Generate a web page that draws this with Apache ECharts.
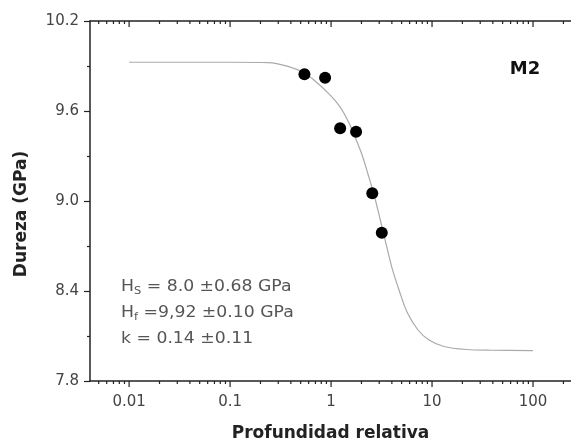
<!DOCTYPE html>
<html lang="es">
<head>
<meta charset="UTF-8">
<title>Dureza M2</title>
<script src="https://cdn.jsdelivr.net/npm/echarts@6/dist/echarts.min.js"></script>
</head>
<body style="margin:0">
<div id="main" style="width:571px;height:445px;"></div>
<script type="text/javascript">
// medidas (puntos negros)
var puntosX = [0.545, 0.873, 1.23, 1.77, 2.56, 3.18];
var puntosY = [9.845, 9.822, 9.485, 9.462, 9.051, 8.789];

// curva de ajuste
var ajusteX = [0.01, 0.1, 0.238, 0.375, 0.541, 0.695, 0.977, 1.227, 1.473, 1.728, 2.03, 2.32, 2.67, 3.06, 3.51, 4.02, 4.71, 5.65, 7.26, 9.34, 13.1, 21.7, 38.4, 100];
var ajusteY = [9.925, 9.925, 9.923, 9.897, 9.853, 9.80, 9.707, 9.627, 9.533, 9.427, 9.307, 9.18, 9.04, 8.88, 8.713, 8.553, 8.407, 8.26, 8.14, 8.073, 8.03, 8.01, 8.005, 8.003];

// marcas del eje x (log)
var xMayores = [0.01, 0.1, 1, 10, 100];
var xMenores = [0.005, 0.006, 0.007, 0.008, 0.009,
    0.02, 0.03, 0.04, 0.05, 0.06, 0.07, 0.08, 0.09,
    0.2, 0.3, 0.4, 0.5, 0.6, 0.7, 0.8, 0.9,
    2, 3, 4, 5, 6, 7, 8, 9,
    20, 30, 40, 50, 60, 70, 80, 90, 200];

var fuente = 'DejaVu Sans';
var ejeColor = '#222';
var yMin = 7.8, yMax = 10.2;

var myChart = echarts.init(document.getElementById('main'));

// las marcas del eje x se dibujan con una serie custom (abajo hacia fuera, arriba hacia dentro)
var marcas = xMayores.map(function (v) { return [v, 6]; })
    .concat(xMenores.map(function (v) { return [v, 3]; }));

function dibujaMarca(params, api) {
    var v = api.value(0);
    var len = api.value(1);
    var abajo = api.coord([v, yMin]);
    var arriba = api.coord([v, yMax]);
    var estilo = { stroke: ejeColor, lineWidth: 1.2 };
    return {
        type: 'group',
        children: [
            { type: 'line', shape: { x1: abajo[0], y1: abajo[1], x2: abajo[0], y2: abajo[1] + len }, style: estilo },
            { type: 'line', shape: { x1: arriba[0], y1: arriba[1], x2: arriba[0], y2: arriba[1] + len }, style: estilo }
        ]
    };
}

var option = {
    animation: false,
    grid: { left: 90, top: 21, right: 0, bottom: 64, outerBoundsMode: 'none', containLabel: false },
    xAxis: [
        {
            type: 'log',
            min: 0.0041,
            max: 237.8,
            axisLine: { show: true, onZero: false, lineStyle: { color: ejeColor, width: 1.5 } },
            axisTick: { show: false },
            axisLabel: {
                customValues: xMayores,
                margin: 14,
                fontFamily: fuente,
                fontSize: 15,
                color: '#444',
                formatter: function (v) { return String(+v.toPrecision(3)); }
            },
            splitLine: { show: false },
            name: 'Profundidad relativa',
            nameLocation: 'middle',
            nameGap: 44,
            nameTextStyle: { fontFamily: fuente, fontWeight: 'bold', fontSize: 17, color: '#222' }
        },
        {
            type: 'log',
            position: 'top',
            min: 0.0041,
            max: 237.8,
            axisLine: { show: true, onZero: false, lineStyle: { color: ejeColor, width: 1.5 } },
            axisTick: { show: false },
            axisLabel: { show: false },
            splitLine: { show: false }
        }
    ],
    yAxis: {
        type: 'value',
        min: yMin,
        max: yMax,
        interval: 0.6,
        name: 'Dureza (GPa)',
        nameLocation: 'middle',
        nameRotate: 90,
        nameGap: 60,
        nameTextStyle: { fontFamily: fuente, fontWeight: 'bold', fontSize: 17, color: '#222', padding: [0, 26, 0, 0] },
        axisLine: { show: true, lineStyle: { color: ejeColor, width: 1.5 } },
        axisTick: { show: true, length: 6, lineStyle: { color: ejeColor, width: 1.2 } },
        minorTick: { show: true, splitNumber: 2, length: 3, lineStyle: { color: ejeColor, width: 1.2 } },
        axisLabel: {
            margin: 11,
            fontFamily: fuente,
            fontSize: 15,
            color: '#444',
            formatter: function (v) { return v.toFixed(1); }
        },
        splitLine: { show: false }
    },
    graphic: [
        {
            type: 'text', x: 121, y: 287, scaleX: 1.15,
            style: {
                text: '{a|H}{b|S}{a| = 8.0 ±0.68 GPa}',
                verticalAlign: 'middle',
                rich: {
                    a: { fontFamily: fuente, fontSize: 15, fill: '#555' },
                    b: { fontFamily: fuente, fontSize: 10, fill: '#555', padding: [9, 0, 0, 0] }
                }
            }
        },
        {
            type: 'text', x: 121, y: 313, scaleX: 1.15,
            style: {
                text: '{a|H}{b|f}{a| =9,92 ±0.10 GPa}',
                verticalAlign: 'middle',
                rich: {
                    a: { fontFamily: fuente, fontSize: 15, fill: '#555' },
                    b: { fontFamily: fuente, fontSize: 10, fill: '#555', padding: [9, 0, 0, 0] }
                }
            }
        },
        {
            type: 'text', x: 121, y: 339, scaleX: 1.15,
            style: { text: 'k = 0.14 ±0.11', fontFamily: fuente, fontSize: 15, fill: '#555', verticalAlign: 'middle' }
        },
        {
            type: 'text', x: 525, y: 69,
            style: { text: 'M2', fontFamily: fuente, fontWeight: 'bold', fontSize: 18, fill: '#111', align: 'center', verticalAlign: 'middle' }
        }
    ],
    series: [
        {
            name: 'marcas',
            type: 'custom',
            xAxisIndex: 0,
            renderItem: dibujaMarca,
            data: marcas,
            clip: false,
            silent: true,
            z: 1
        },
        {
            name: 'ajuste',
            type: 'line',
            xAxisIndex: 0,
            data: ajusteX.map(function (x, i) { return [x, ajusteY[i]]; }),
            smooth: 0.3,
            showSymbol: false,
            lineStyle: { color: '#aaa', width: 1.2 },
            z: 2
        },
        {
            name: 'M2',
            type: 'scatter',
            xAxisIndex: 0,
            data: puntosX.map(function (x, i) { return [x, puntosY[i]]; }),
            symbolSize: 12,
            itemStyle: { color: '#000', opacity: 1 },
            z: 3
        }
    ]
};

myChart.setOption(option);
</script>
</body>
</html>
